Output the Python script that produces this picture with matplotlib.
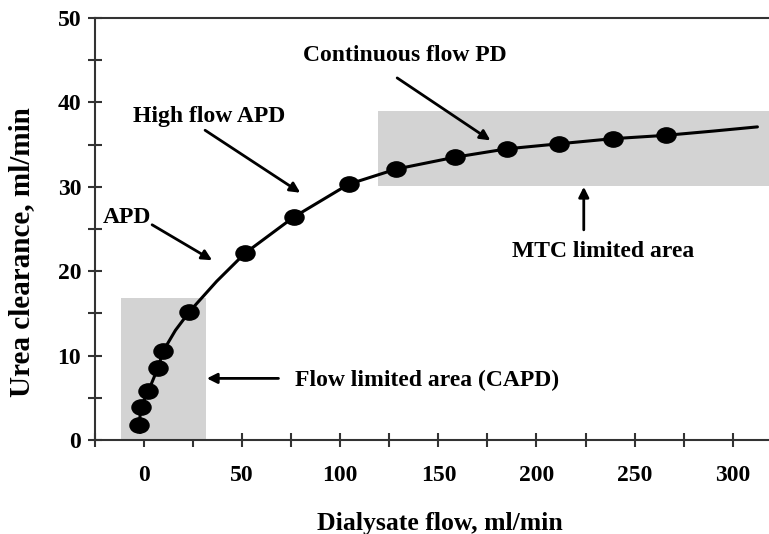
import numpy as np
import matplotlib
matplotlib.use('Agg')
import matplotlib.pyplot as plt
from matplotlib.markers import MarkerStyle
from matplotlib.transforms import Affine2D
from matplotlib.ticker import MultipleLocator

# measured points (dialysate flow, urea clearance)
flow = [-2.4, -1.7, 2.2, 7.0, 9.9, 23.1, 51.3, 76.2, 104.2, 128.5, 158.3, 185.0, 211.7, 238.8, 266.0]
clearance = [1.8, 3.9, 5.8, 8.5, 10.6, 15.2, 22.1, 26.4, 30.3, 32.1, 33.5, 34.5, 35.1, 35.7, 36.1]

# fitted curve
curve_x = [-2.0, -2.4, -1.7, 2.2, 7.0, 9.9, 16.0, 23.1, 37.0, 51.3, 76.2, 104.2, 128.5, 158.3, 185.0, 211.7, 238.8, 266.0, 290.0, 312.6]
curve_y = [0.9, 1.8, 3.9, 5.8, 8.5, 10.6, 13.0, 15.2, 18.8, 22.1, 26.4, 30.3, 32.1, 33.5, 34.5, 35.1, 35.7, 36.1, 36.6, 37.1]

# shaded regions: (x0, x1, y0, y1)
flow_area = (-11.9, 31.5, 0, 16.8)
mtc_area = (119.0, 318.5, 30.1, 39.0)

labels = ['Continuous flow PD', 'High flow APD', 'APD', 'Flow limited area (CAPD)', 'MTC limited area']
label_xy = [(81.1, 45.6), (-5.6, 38.3), (-20.9, 26.4), (77.0, 7.1), (187.6, 22.3)]
arrow_tail = [(129.0, 42.9), (31.1, 36.7), (4.1, 25.5), (68.5, 7.3), (224.1, 24.9)]
arrow_head = [(176.5, 35.5), (79.6, 29.3), (34.7, 21.3), (32.0, 7.3), (224.1, 30.0)]

fnt = 'Liberation Serif'

fig = plt.figure(figsize=(7.69, 5.34), dpi=100)
ax = fig.add_axes([95/769, 1-440/534, 674/769, 422/534])

for x0, x1, y0, y1 in [flow_area, mtc_area]:
    ax.add_patch(plt.Rectangle((x0, y0), x1-x0, y1-y0, facecolor='#d3d3d3', edgecolor='none', zorder=1))

ax.plot(curve_x, curve_y, color='black', lw=2.2, zorder=3, solid_capstyle='round')
mk = MarkerStyle('o', transform=Affine2D().scale(1.25, 1.0))
ax.plot(flow, clearance, linestyle='none', marker=mk, markersize=11, color='black', zorder=4)

for txt, (tx, ty) in zip(labels, label_xy):
    ax.text(tx, ty, txt, ha='left', va='center', fontsize=17, fontweight='bold', family=fnt, zorder=5)
for (ax0, ay0), (ax1, ay1) in zip(arrow_tail, arrow_head):
    ax.annotate('', xy=(ax1, ay1), xytext=(ax0, ay0),
                arrowprops=dict(arrowstyle='-|>', lw=2.0, color='black', mutation_scale=15,
                                shrinkA=0, shrinkB=0), zorder=5)

ax.set_xlim(-25, 318.5)
ax.set_ylim(0, 50)
ax.xaxis.set_major_locator(MultipleLocator(50))
ax.xaxis.set_minor_locator(MultipleLocator(25))
ax.yaxis.set_major_locator(MultipleLocator(10))
ax.yaxis.set_minor_locator(MultipleLocator(5))
ax.tick_params(which='both', direction='inout', length=10, width=1.5, color='#333333')
ax.tick_params(axis='x', which='major', pad=13)
ax.tick_params(axis='y', which='major', pad=5)
ax.set_axisbelow(True)

for s in ['left', 'bottom', 'top']:
    ax.spines[s].set_linewidth(1.5)
    ax.spines[s].set_color('#333333')
ax.spines['right'].set_visible(False)

for lab in ax.get_xticklabels() + ax.get_yticklabels():
    lab.set_family(fnt)
    lab.set_fontweight('bold')
    lab.set_fontsize(17)

fig.text(440/769, 4/534, 'Dialysate flow, ml/min', ha='center', va='baseline',
         fontsize=18.5, fontweight='bold', family=fnt)
fig.text(22/769, 1-252/534, 'Urea clearance, ml/min', ha='center', va='center', rotation=90,
         fontsize=21, fontweight='bold', family=fnt)

fig.savefig('out.png', dpi=100)
